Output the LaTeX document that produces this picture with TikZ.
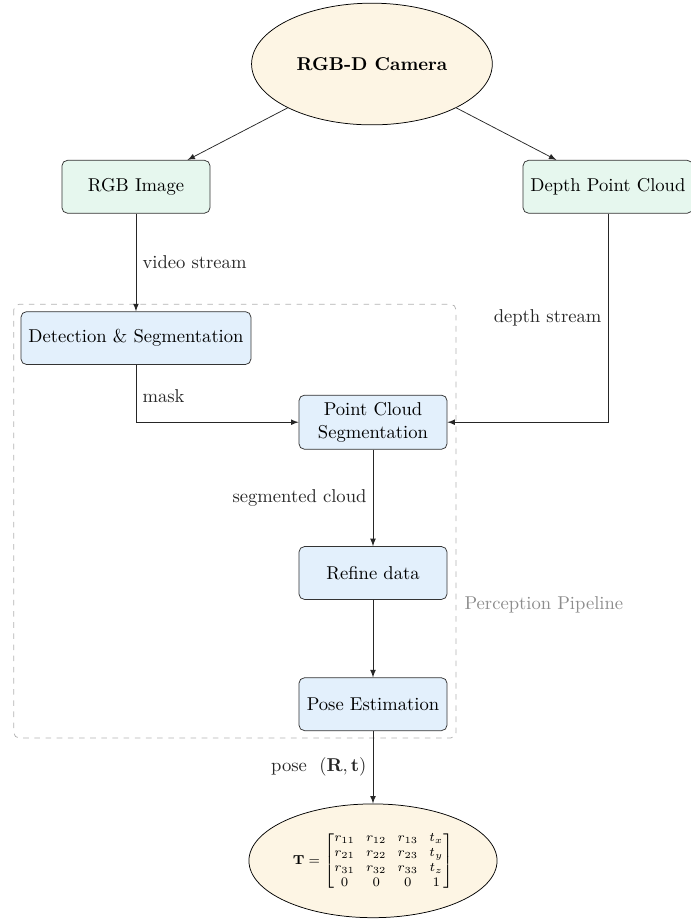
\documentclass[tikz,border=0pt]{standalone}
\usepackage{amsmath}
\usepackage{tikz}
\usetikzlibrary{shapes,arrows,positioning}
\definecolor{camfill}{HTML}{FDF5E4}
\definecolor{srcfill}{HTML}{E6F7EE}
\definecolor{procfill}{HTML}{E3F0FC}
\tikzstyle{enode} = [ellipse, draw, fill=camfill, inner sep = 0pt]
\tikzstyle{snode} = [rectangle, rounded corners = 3pt, draw = black!80, fill=srcfill, minimum width = 2.8cm, minimum height = 1cm, inner sep = 4pt]
\tikzstyle{pnode} = [snode, fill=procfill]
\tikzstyle{line} = [draw, -latex, black!85]
\tikzstyle{group} = [draw = black!30, dashed, rounded corners = 3pt]

\begin{document}
\begin{tikzpicture}
			\useasboundingbox (0, 0) rectangle (13.06, -17.37);
			\draw [group] (0.26, -5.75) rectangle (8.62, -13.95);
			\node [text = black!45] (pipe) at (10.28, -11.43) {Perception Pipeline};

			\node [enode, minimum width = 4.55cm, minimum height = 2.3cm] (cam) at (7.03, -1.21) {\textbf{RGB-D Camera}};
			\node [snode] (rgb) at (2.57, -3.53) {RGB Image};
			\node [snode] (depth) at (11.49, -3.53) {Depth Point Cloud};
			\node [pnode] (det) at (2.57, -6.39) {Detection \& Segmentation};
			\node [pnode, align = center] (pcs) at (7.05, -7.98) {Point Cloud\\Segmentation};
			\node [pnode] (ref) at (7.05, -10.83) {Refine data};
			\node [pnode] (pose) at (7.05, -13.31) {Pose Estimation};
			\node [enode, minimum width = 4.69cm, minimum height = 2.15cm] (tmat) at (7.05, -16.27)
				{\scriptsize \setlength{\arraycolsep}{3pt}$\mathbf{T} = \begin{bmatrix} r_{11} & r_{12} & r_{13} & t_x \\ r_{21} & r_{22} & r_{23} & t_y \\ r_{31} & r_{32} & r_{33} & t_z \\ 0 & 0 & 0 & 1 \end{bmatrix}$};

			\path [line] (cam) -- (rgb);
			\path [line] (cam) -- (depth);
			\path [line] (rgb) -- node [right] {video stream} (det);
			\path [line] (det) |- node [right, pos = 0.27] {mask} (pcs);
			\path [line] (depth) |- node [left, pos = 0.25] {depth stream} (pcs);
			\path [line] (pcs) -- node [left] {segmented cloud} (ref);
			\path [line] (ref) -- (pose);
			\path [line] (pose) -- node [left] {pose~~$(\mathbf{R}, \mathbf{t})$} (tmat);
		\end{tikzpicture}
\end{document}
